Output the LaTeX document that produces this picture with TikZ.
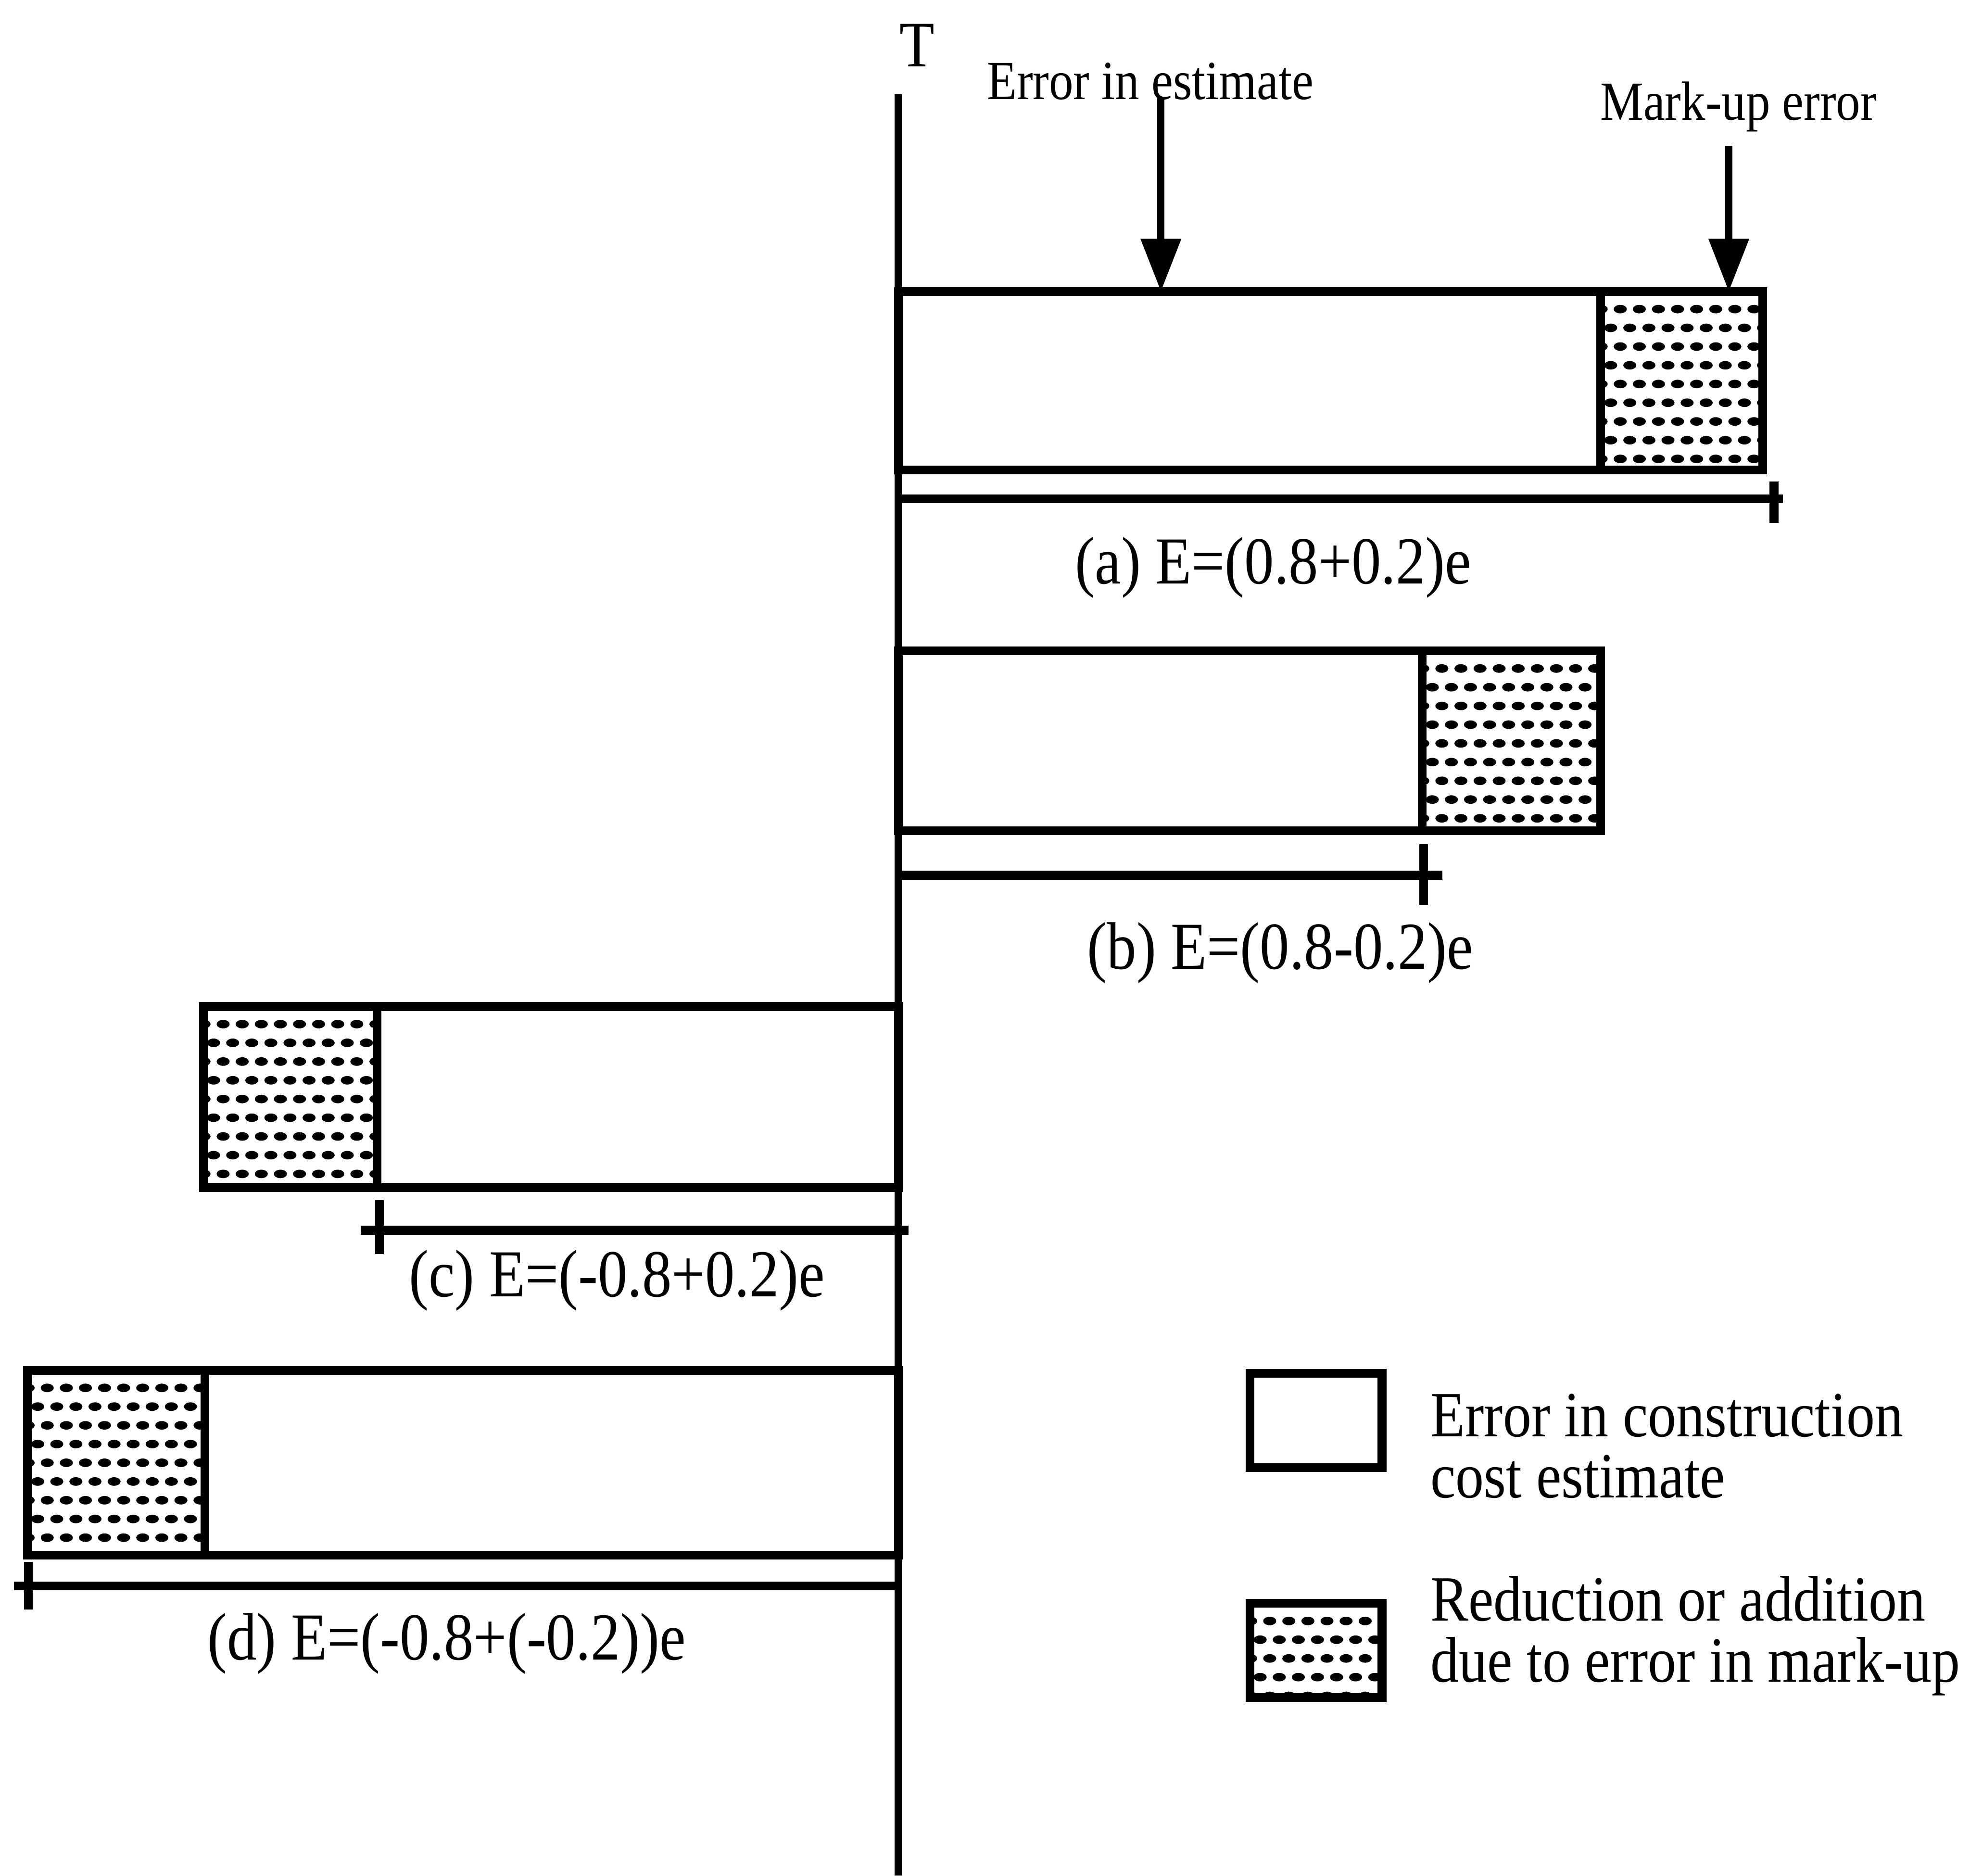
\documentclass[tikz,border=0pt]{standalone}
\usepackage{fontspec}
\setmainfont[FakeStretch=0.88]{Liberation Serif}
\usetikzlibrary{positioning,arrows.meta}
\tikzset{
  >={Triangle[length=4.2mm,width=3.1mm]},
  bar/.style={draw,line width=2pt,inner sep=0pt,outer sep=0pt},
  estbar/.style={bar,anchor=north west},
  mubar/.style={bar,
    path picture={
      \foreach \r in {0,...,10}{
        \foreach \c in {-1,...,10}{
          \pgfmathsetmacro\dx{0.08+0.152*\c+0.076*(1-mod(\r,2))}
          \pgfmathsetmacro\dy{-0.14-0.149*\r}
          \fill ([shift={(\dx,\dy)}]path picture bounding box.north west)
            ellipse [x radius=0.052,y radius=0.034];
        }
      }
    }},
  rule/.style={line width=2pt},
  axisline/.style={line width=1.6pt},
  arr/.style={->,line width=1.6pt},
  toplab/.style={font=\fontsize{12.5}{15}\selectfont,inner sep=0pt,anchor=base west},
  caselab/.style={font=\fontsize{15.2}{18}\selectfont,inner sep=0pt,anchor=base},
  legtxt/.style={font=\fontsize{14.6}{13.9}\selectfont,align=left,inner sep=0pt,
                 anchor=north west},
}
\begin{document}
\begin{tikzpicture}
  \useasboundingbox (0,0) rectangle (15.68,-14.926);
  % time axis
  \coordinate (axtop) at (7.15,-0.75);
  \coordinate (axbot) at (7.15,-14.926);
  \draw[axisline] (axtop) -- (axbot);
  \node[font=\fontsize{14.7}{17}\selectfont,inner sep=0pt,anchor=base] (T) at (7.30,-0.53) {T};

  % (a)
  \node[estbar,minimum width=5.59cm,minimum height=1.42cm] (ea) at (7.15,-2.32) {};
  \node[mubar,minimum width=1.29cm,minimum height=1.42cm,right=0pt of ea] (ma) {};
  \coordinate (ua1) at (7.15,-3.97);
  \coordinate (ua2) at (14.19,-3.97);
  \coordinate (ka1) at (14.12,-3.83);
  \coordinate (ka2) at (14.12,-4.16);
  \draw[rule] (ua1) -- (ua2);
  \draw[rule] (ka1) -- (ka2);
  \node[caselab] (la) at (10.135,-4.645) {(a) E=(0.8+0.2)e};

  % arrows above (a)
  \node[toplab] (errest) at (7.85,-0.79) {Error in estimate};
  \node[toplab] (errmu) at (12.73,-0.955) {Mark-up error};
  \coordinate (ae) at (9.24,-0.78);
  \coordinate (am) at (13.76,-1.16);
  \draw[arr] (ae) -- (ae |- ea.north);
  \draw[arr] (am) -- (am |- ma.north);

  % (b)
  \node[estbar,minimum width=4.17cm,minimum height=1.43cm] (eb) at (7.15,-5.18) {};
  \node[mubar,minimum width=1.42cm,minimum height=1.43cm,right=0pt of eb] (mb) {};
  \coordinate (ub1) at (7.15,-6.965);
  \coordinate (ub2) at (11.48,-6.965);
  \coordinate (kb1) at (11.33,-6.72);
  \coordinate (kb2) at (11.33,-7.20);
  \draw[rule] (ub1) -- (ub2);
  \draw[rule] (kb1) -- (kb2);
  \node[caselab] (lb) at (10.19,-7.71) {(b) E=(0.8-0.2)e};

  % (c)
  \node[bar,anchor=north east,minimum width=4.15cm,minimum height=1.44cm] (ec) at (7.15,-8.01) {};
  \node[mubar,minimum width=1.38cm,minimum height=1.44cm,left=0pt of ec] (mc) {};
  \coordinate (uc1) at (2.87,-9.79);
  \coordinate (uc2) at (7.23,-9.79);
  \coordinate (kc1) at (3.02,-9.55);
  \coordinate (kc2) at (3.02,-9.98);
  \draw[rule] (uc1) -- (uc2);
  \draw[rule] (kc1) -- (kc2);
  \node[caselab] (lc) at (4.91,-10.32) {(c) E=(-0.8+0.2)e};

  % (d)
  \node[bar,anchor=north east,minimum width=5.52cm,minimum height=1.47cm] (ed) at (7.15,-10.905) {};
  \node[mubar,minimum width=1.41cm,minimum height=1.47cm,left=0pt of ed] (md) {};
  \coordinate (ud1) at (0.11,-12.62);
  \coordinate (ud2) at (7.15,-12.62);
  \coordinate (kd1) at (0.225,-12.43);
  \coordinate (kd2) at (0.225,-12.81);
  \draw[rule] (ud1) -- (ud2);
  \draw[rule] (kd1) -- (kd2);
  \node[caselab] (ld) at (3.555,-13.21) {(d) E=(-0.8+(-0.2))e};

  % legend
  \node[estbar,minimum width=1.05cm,minimum height=0.75cm] (legest) at (9.95,-10.93) {};
  \node[mubar,anchor=north west,minimum width=1.05cm,minimum height=0.75cm] (legmu) at (9.95,-12.76) {};
  \node[legtxt] (legesttxt) at (11.38,-11.085) {Error in construction\\cost estimate};
  \node[legtxt] (legmutxt) at (11.38,-12.535) {Reduction or addition\\due to error in mark-up};
\end{tikzpicture}
\end{document}
